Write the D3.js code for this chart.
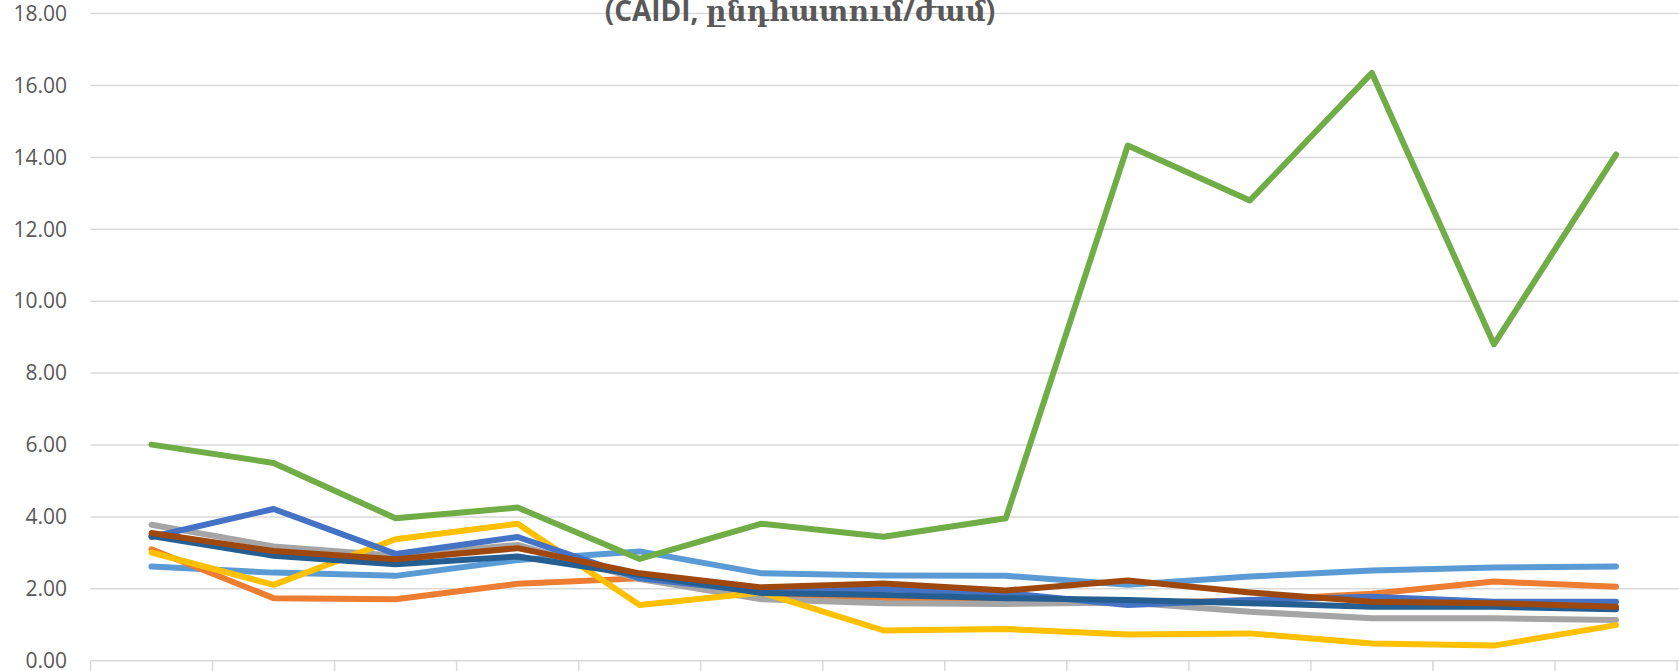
<!DOCTYPE html>
<html>
<head>
<meta charset="utf-8">
<script src="https://cdn.jsdelivr.net/npm/d3@7/dist/d3.min.js"></script>
<style>
  html, body { margin: 0; padding: 0; background: #fff; overflow: hidden; }
  svg { display: block; }
</style>
</head>
<body>
<svg id="chart" width="1679" height="671"></svg>
<script>
const categories = ["1","2","3","4","5","6","7","8","9","10","11","12","13"];
const yTicks = [0, 2, 4, 6, 8, 10, 12, 14, 16, 18];
const titleText = "(CAIDI, ընդհատում/ժամ)";

const seriesLightBlue = [2.62, 2.45, 2.36, 2.80, 3.04, 2.43, 2.37, 2.36, 2.11, 2.34, 2.51, 2.59, 2.62];
const seriesOrange    = [3.10, 1.74, 1.71, 2.14, 2.29, 1.83, 1.71, 1.64, 1.60, 1.68, 1.86, 2.20, 2.06];
const seriesGray      = [3.78, 3.18, 2.92, 3.22, 2.27, 1.71, 1.60, 1.58, 1.62, 1.36, 1.18, 1.18, 1.13];
const seriesYellow    = [3.01, 2.11, 3.38, 3.81, 1.55, 1.90, 0.84, 0.88, 0.73, 0.76, 0.48, 0.42, 0.99];
const seriesBlue      = [3.44, 4.22, 2.97, 3.44, 2.29, 1.92, 1.99, 1.88, 1.55, 1.69, 1.78, 1.64, 1.64];
const seriesGreen     = [6.01, 5.50, 3.96, 4.26, 2.83, 3.81, 3.45, 3.96, 14.33, 12.80, 16.35, 8.80, 14.08];
const seriesDarkBlue  = [3.47, 2.92, 2.68, 2.90, 2.39, 1.88, 1.83, 1.74, 1.69, 1.60, 1.50, 1.50, 1.43];
const seriesBrown     = [3.55, 3.05, 2.82, 3.13, 2.43, 2.04, 2.15, 1.95, 2.23, 1.90, 1.64, 1.60, 1.50];

const series = [
  { values: seriesLightBlue, color: "#5B9BD5" },
  { values: seriesOrange,    color: "#ED7D31" },
  { values: seriesGray,      color: "#A5A5A5" },
  { values: seriesYellow,    color: "#FFC000" },
  { values: seriesBlue,      color: "#4472C4" },
  { values: seriesGreen,     color: "#70AD47" },
  { values: seriesDarkBlue,  color: "#255E91" },
  { values: seriesBrown,     color: "#9E480E" }
];

(function () {
const svg = d3.select("#chart");
const mLeft = 90.5, mRight = 1677, mTop = 13.6, mBottom = 660.7;

const x = d3.scaleBand().domain(categories).range([mLeft, mRight]).padding(0);
const y = d3.scaleLinear().domain([0, 18]).range([mBottom, mTop]);

// gridlines
svg.append("g")
  .selectAll("line")
  .data(yTicks.filter(d => d > 0))
  .join("line")
  .attr("x1", mLeft).attr("x2", 1679)
  .attr("y1", d => y(d)).attr("y2", d => y(d))
  .attr("stroke", "#D9D9D9").attr("stroke-width", 1.5);

// y axis labels
const yAxis = d3.axisLeft(y).tickValues(yTicks).tickFormat(d3.format(".2f")).tickSize(0).tickPadding(0);
const gy = svg.append("g").attr("transform", "translate(67,0)").call(yAxis);
gy.select(".domain").remove();
gy.selectAll("text")
  .attr("fill", "#595959")
  .style("font-family", "'Open Sans', 'Liberation Sans', sans-serif")
  .style("font-size", "21px");

// x axis
const xAxis = d3.axisBottom(x).tickSize(0).tickFormat("");
const gx = svg.append("g").attr("transform", `translate(0,${mBottom})`).call(xAxis);
gx.select(".domain").attr("stroke", "#D9D9D9").attr("stroke-width", 1.5).attr("d", `M${mLeft},0H1679`);
gx.selectAll(".tick").remove();
const boundaries = categories.map(c => x(c)).concat([x(categories[categories.length-1]) + x.bandwidth()]);
gx.append("g").selectAll("line")
  .data(boundaries)
  .join("line")
  .attr("x1", d => d).attr("x2", d => d)
  .attr("y1", 0).attr("y2", 12)
  .attr("stroke", "#D9D9D9").attr("stroke-width", 1.5);

// lines
const line = d3.line()
  .x((d, i) => x(categories[i]) + x.bandwidth() / 2)
  .y(d => y(d));

svg.append("g")
  .selectAll("path")
  .data(series)
  .join("path")
  .attr("d", s => line(s.values))
  .attr("fill", "none")
  .attr("stroke", s => s.color)
  .attr("stroke-width", 6)
  .attr("stroke-linejoin", "round")
  .attr("stroke-linecap", "round");

// title (partially cut at top, as in the reference)
svg.append("text")
  .attr("x", 800).attr("y", 21)
  .attr("text-anchor", "middle")
  .attr("fill", "#595959")
  .style("font-family", "'Open Sans', 'DejaVu Serif', sans-serif")
  .style("font-weight", "bold")
  .style("font-size", "28px")
  .text(titleText);
})();
</script>
</body>
</html>
